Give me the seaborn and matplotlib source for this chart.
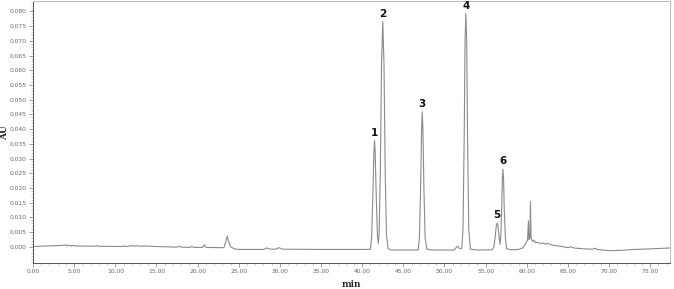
import numpy as np
import pandas as pd
import matplotlib
matplotlib.use("Agg")
import matplotlib.pyplot as plt
from matplotlib.ticker import MultipleLocator, FormatStrFormatter
import seaborn as sns

# trace (retention time in min, absorbance in AU)
rt_min = [
    0.0, 2.0, 3.7, 3.9, 4.1, 4.3, 4.6, 4.8, 5.0, 7.5, 7.7, 7.9,
    10.8, 11.0, 11.2, 12.0, 12.3, 12.6, 13.0, 13.5, 15.0, 17.5, 17.8, 18.0,
    19.1, 19.3, 19.5, 20.6, 20.8, 21.0, 23.2, 23.45, 23.6, 23.75, 24.0, 24.5,
    25.0, 28.0, 28.4, 28.8, 29.5, 29.9, 30.3, 35.0, 40.5,
    41.0, 41.15, 41.3, 41.42, 41.5, 41.58, 41.7, 41.85, 41.95,
    42.05, 42.2, 42.35, 42.5, 42.65, 42.8, 42.95, 43.15, 43.5,
    46.8, 46.95, 47.1, 47.22, 47.3, 47.38, 47.5, 47.65, 47.85, 48.5,
    51.2, 51.45, 51.6, 51.75, 51.9,
    52.1, 52.25, 52.4, 52.5, 52.6, 52.7, 52.8, 52.95, 53.15, 54.0, 55.8,
    56.0, 56.15, 56.3, 56.4, 56.5, 56.65, 56.75,
    56.85, 56.95, 57.03, 57.1, 57.18, 57.27, 57.4, 57.55, 58.0, 59.0,
    59.5, 59.9, 60.1, 60.2, 60.27, 60.38, 60.45, 60.52, 60.7, 60.9,
    61.1, 61.3, 61.6, 62.0, 62.3, 62.6, 62.9, 63.5, 64.3, 65.0, 65.4,
    65.7, 67.0, 68.0, 68.3, 68.6, 70.0, 71.5, 73.0, 75.0, 77.4,
]
au = [
    0.0001, 0.0003, 0.0005, 0.0007, 0.0003, 0.0006, 0.0003, 0.0005, 0.0003, 0.0002, 0.0004, 0.0002,
    0.0001, 0.0003, 0.0001, 0.0004, 0.0002, 0.0004, 0.0002, 0.0003, 0.0001, -0.0001, 0.0002, -0.0001,
    -0.0002, 0.0002, -0.0002, -0.0002, 0.0007, -0.0002, -0.0003, 0.0020, 0.0036, 0.0020, 0.0000, -0.0007,
    -0.0009, -0.0009, -0.0004, -0.0008, -0.0008, -0.0003, -0.0008, -0.0009, -0.0009,
    -0.0008, 0.0035, 0.0180, 0.0320, 0.0362, 0.0320, 0.0180, 0.0040, 0.0012,
    0.0040, 0.0250, 0.0620, 0.0765, 0.0620, 0.0250, 0.0040, -0.0006, -0.0011,
    -0.0011, 0.0030, 0.0200, 0.0400, 0.0459, 0.0400, 0.0200, 0.0030, -0.0008, -0.0011,
    -0.0011, -0.0001, 0.0002, -0.0004, -0.0006,
    -0.0005, 0.0060, 0.0380, 0.0700, 0.0792, 0.0700, 0.0380, 0.0060, -0.0008, -0.0011, -0.0010,
    0.0000, 0.0030, 0.0072, 0.0081, 0.0072, 0.0030, 0.0008,
    0.0040, 0.0130, 0.0230, 0.0264, 0.0230, 0.0120, 0.0030, -0.0006, -0.0010, -0.0009,
    -0.0004, 0.0012, 0.0025, 0.0088, 0.0025, 0.0030, 0.0154, 0.0030, 0.0018, 0.0022,
    0.0013, 0.0016, 0.0011, 0.0013, 0.0009, 0.0012, 0.0007, 0.0004, 0.0001, -0.0003, 0.0000,
    -0.0004, -0.0007, -0.0008, -0.0005, -0.0009, -0.0013, -0.0012, -0.0009, -0.0007, -0.0004,
]

# numbered peaks
peak_labels = ["1", "2", "3", "4", "5", "6"]
peak_rt = [41.5, 42.5, 47.3, 52.6, 56.4, 57.1]
peak_au = [0.0362, 0.0765, 0.0459, 0.0792, 0.0081, 0.0264]

# labelled y ticks (only the non-negative part of the axis carries labels)
y_ticks = [0.000, 0.005, 0.010, 0.015, 0.020, 0.025, 0.030, 0.035, 0.040,
           0.045, 0.050, 0.055, 0.060, 0.065, 0.070, 0.075, 0.080]

df = pd.DataFrame({"min": rt_min, "AU": au})

sns.set_style("ticks")
fig, ax = plt.subplots(figsize=(6.74, 2.89), dpi=100)
fig.subplots_adjust(left=0.049, right=0.994, top=0.995, bottom=0.09)

sns.lineplot(data=df, x="min", y="AU", ax=ax, color="#8a8a8a",
             linewidth=0.8, estimator=None, sort=False)

for lab, x, y in zip(peak_labels, peak_rt, peak_au):
    ax.annotate(lab, (x, y), xytext=(0, 2), textcoords="offset points",
                ha="center", va="bottom", fontsize=7.5, fontweight="bold",
                color="#111111")

ax.set_xlim(0, 77.4)
ax.set_ylim(-0.0055, 0.0834)
ax.xaxis.set_major_locator(MultipleLocator(5))
ax.xaxis.set_minor_locator(MultipleLocator(1))
ax.set_yticks(y_ticks)
ax.yaxis.set_minor_locator(MultipleLocator(0.001))
ax.xaxis.set_major_formatter(FormatStrFormatter("%.2f"))
ax.yaxis.set_major_formatter(FormatStrFormatter("%.3f"))

ax.tick_params(axis="both", which="major", labelsize=4.3, labelcolor="#666666",
               length=3, width=0.5, color="#777777", pad=1.5)
ax.tick_params(axis="both", which="minor", length=1.5, width=0.4, color="#999999")

for side in ["left", "bottom"]:
    ax.spines[side].set_color("#555555")
    ax.spines[side].set_linewidth(0.7)
for side in ["top", "right"]:
    ax.spines[side].set_visible(True)
    ax.spines[side].set_color("#bbbbbb")
    ax.spines[side].set_linewidth(0.7)

ax.set_xlabel("min", fontsize=6.5, fontweight="bold", family="DejaVu Serif", labelpad=4)
ax.set_ylabel("AU", fontsize=6.5, fontweight="bold", family="DejaVu Serif")
ax.yaxis.set_label_coords(-0.037, 0.5)

fig.savefig("out.png", dpi=100)
plt.close(fig)
